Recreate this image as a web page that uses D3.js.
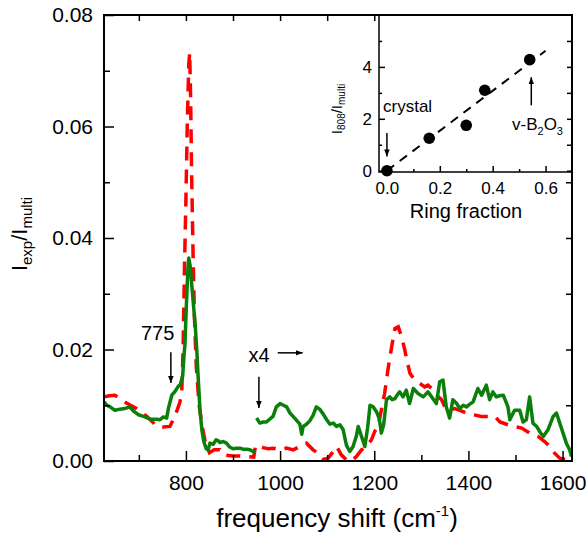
<!DOCTYPE html>
<meta charset="utf-8">
<script src="https://d3js.org/d3.v7.min.js"></script>
<style>
  body { margin: 0; background: #fff; }
  text { font-family: "Liberation Sans", Arial, sans-serif; fill: #000; }
</style>
<div id="chart"></div>
<script>

// ---- main spectrum data (frequency shift in cm-1, intensity ratio) ----
var redFreq = [626, 638, 649, 660, 670, 682, 695, 706, 717, 728, 738, 752, 766, 773, 780, 787, 791, 794, 797, 800,
  803, 806, 808, 810, 812, 815, 818, 822, 828, 835, 842, 850, 860, 872, 880, 890, 900, 915, 930, 944,
  948, 957, 964, 975, 985, 1000, 1014, 1028, 1042, 1056, 1070, 1081, 1092, 1102, 1111, 1120, 1130, 1141, 1152, 1162,
  1173, 1183, 1194, 1201, 1208, 1215, 1222, 1230, 1237, 1244, 1251, 1258, 1265, 1269, 1276, 1286, 1297, 1307, 1314, 1322,
  1332, 1343, 1350, 1360, 1371, 1382, 1396, 1410, 1428, 1442, 1456, 1467, 1484, 1498, 1513, 1530, 1548, 1562, 1573, 1583,
  1594, 1608, 1619];
var redVal = [0.0115, 0.0117, 0.0118, 0.0112, 0.0106, 0.0100, 0.0094, 0.0087, 0.0080, 0.0071, 0.0062, 0.0061, 0.0062, 0.0074, 0.0088, 0.0105, 0.0120, 0.0200, 0.0350, 0.0470,
  0.0610, 0.0710, 0.0732, 0.0650, 0.0520, 0.0380, 0.0260, 0.0170, 0.0100, 0.0060, 0.0030, 0.0015, 0.0020, 0.0020, 0.0011, 0.0010, 0.0009, 0.0009, 0.0008, 0.0007,
  0.0028, 0.0026, 0.0024, 0.0022, 0.0023, 0.0020, 0.0023, 0.0020, 0.0026, 0.0032, 0.0020, 0.0014, 0.0003, 0.0005, 0.0015, 0.0026, 0.0011, 0.0002, 0.0000, 0.0008,
  0.0020, 0.0026, 0.0038, 0.0053, 0.0062, 0.0091, 0.0121, 0.0169, 0.0205, 0.0238, 0.0241, 0.0223, 0.0199, 0.0181, 0.0157, 0.0145, 0.0139, 0.0133, 0.0136, 0.0130,
  0.0118, 0.0110, 0.0097, 0.0091, 0.0094, 0.0091, 0.0086, 0.0083, 0.0080, 0.0080, 0.0080, 0.0070, 0.0065, 0.0062, 0.0059, 0.0050, 0.0044, 0.0035, 0.0026, 0.0014,
  0.0005, 0.0002, 0.0000];

// green curve, first part (below 950 cm-1)
var greenFreqA = [626, 632, 639, 649, 660, 670, 681, 688, 699, 710, 724, 738, 745, 752, 759, 763, 770, 777, 783, 788,
  793, 796, 798, 801, 804, 806, 809, 812, 816, 820, 823, 826, 830, 834, 838, 843, 847, 851, 858, 864,
  869, 872, 879, 886, 893, 900, 907, 915, 922, 929, 936, 943, 947];
var greenValA = [0.0106, 0.0100, 0.0097, 0.0091, 0.0093, 0.0094, 0.0097, 0.0090, 0.0083, 0.0080, 0.0075, 0.0075, 0.0074, 0.0079, 0.0077, 0.0095, 0.0118, 0.0125, 0.0133, 0.0137,
  0.0152, 0.0190, 0.0210, 0.0280, 0.0340, 0.0364, 0.0350, 0.0320, 0.0280, 0.0240, 0.0200, 0.0150, 0.0090, 0.0055, 0.0035, 0.0022, 0.0020, 0.0032, 0.0030, 0.0038,
  0.0036, 0.0033, 0.0035, 0.0032, 0.0025, 0.0022, 0.0023, 0.0023, 0.0021, 0.0021, 0.0020, 0.0017, 0.0019];

// green curve, second part (x4 scaled region)
var greenFreqB = [950, 957, 964, 971, 978, 985, 992, 1000, 1007, 1014, 1021, 1031, 1042, 1046, 1049, 1056, 1063, 1070, 1077, 1084,
  1091, 1099, 1106, 1113, 1120, 1127, 1134, 1141, 1148, 1155, 1162, 1166, 1173, 1180, 1186, 1191, 1198, 1205, 1211, 1215,
  1220, 1226, 1233, 1238, 1244, 1250, 1254, 1261, 1268, 1275, 1283, 1293, 1304, 1314, 1322, 1332, 1339, 1346, 1353, 1360,
  1367, 1375, 1382, 1389, 1396, 1403, 1410, 1420, 1428, 1438, 1445, 1452, 1459, 1466, 1474, 1484, 1488, 1498, 1509, 1516,
  1523, 1530, 1537, 1545, 1552, 1559, 1569, 1580, 1587, 1594, 1601, 1608, 1615, 1619];
var greenValB = [0.0077, 0.0068, 0.0070, 0.0070, 0.0075, 0.0080, 0.0097, 0.0103, 0.0100, 0.0097, 0.0086, 0.0077, 0.0066, 0.0048, 0.0062, 0.0066, 0.0072, 0.0082, 0.0097, 0.0093,
  0.0085, 0.0074, 0.0066, 0.0068, 0.0062, 0.0065, 0.0056, 0.0028, 0.0017, 0.0026, 0.0045, 0.0062, 0.0044, 0.0026, 0.0060, 0.0100, 0.0097, 0.0088, 0.0075, 0.0050,
  0.0065, 0.0110, 0.0115, 0.0110, 0.0112, 0.0120, 0.0124, 0.0115, 0.0127, 0.0103, 0.0130, 0.0121, 0.0115, 0.0124, 0.0115, 0.0103, 0.0142, 0.0145, 0.0097, 0.0077,
  0.0110, 0.0103, 0.0094, 0.0100, 0.0097, 0.0102, 0.0106, 0.0130, 0.0118, 0.0136, 0.0110, 0.0124, 0.0115, 0.0117, 0.0118, 0.0097, 0.0074, 0.0091, 0.0091, 0.0070,
  0.0074, 0.0115, 0.0068, 0.0062, 0.0052, 0.0044, 0.0056, 0.0080, 0.0086, 0.0068, 0.0050, 0.0032, 0.0020, 0.0008];

var xMajor = [800, 1000, 1200, 1400, 1600];
var xMinor = [700, 900, 1100, 1300, 1500];
var yMajor = [0, 0.02, 0.04, 0.06, 0.08];
var yMinor = [0.01, 0.03, 0.05, 0.07];

// ---- inset data ----
var ringFraction = [0, 0.16, 0.30, 0.37, 0.54];
var ratio808 = [0, 1.25, 1.75, 3.1, 4.28];
var fitX = [0, 0.6];
var fitY = [0, 4.62];
var inXMajor = [0, 0.2, 0.4, 0.6];
var inXMinor = [0.1, 0.3, 0.5];
var inYMajor = [0, 2, 4];
var inYMinor = [1, 3, 5];

var width = 588, height = 539;
var mLeft = 104, mTop = 15, mRight = 572, mBottom = 461;

var svg = d3.select("#chart").append("svg")
    .attr("width", width)
    .attr("height", height);

var defs = svg.append("defs");
defs.append("clipPath").attr("id", "clip")
  .append("rect").attr("x", mLeft).attr("y", mTop).attr("width", mRight - mLeft).attr("height", mBottom - mTop);
defs.append("marker")
    .attr("id", "arrow")
    .attr("viewBox", "0 0 10 10")
    .attr("refX", 10).attr("refY", 5)
    .attr("markerWidth", 7).attr("markerHeight", 7)
    .attr("markerUnits", "userSpaceOnUse")
    .attr("orient", "auto")
  .append("path").attr("d", "M0,1 L10,5 L0,9 Z").attr("fill", "#000");

var x = d3.scaleLinear().domain([626, 1620]).range([mLeft, mRight]);
var y = d3.scaleLinear().domain([0, 0.08]).range([mBottom, mTop]);

function zip(a, b) { return a.map(function(d, i) { return [d, b[i]]; }); }

var line = d3.line()
    .x(function(d) { return x(d[0]); })
    .y(function(d) { return y(d[1]); });

var plot = svg.append("g").attr("clip-path", "url(#clip)");

plot.append("path")
    .attr("d", line(zip(redFreq, redVal)))
    .attr("fill", "none")
    .attr("stroke", "#ff0000")
    .attr("stroke-width", 3.5)
    .attr("stroke-dasharray", "14,9");

[zip(greenFreqA, greenValA), zip(greenFreqB, greenValB)].forEach(function(seg) {
  plot.append("path")
      .attr("d", line(seg))
      .attr("fill", "none")
      .attr("stroke", "#0a800a")
      .attr("stroke-width", 3.5)
      .attr("stroke-linejoin", "round");
});

// ---- main axes, ticks pointing inward ----
function styleAxis(g, fs) {
  g.select(".domain").remove();
  g.selectAll("line").attr("stroke", "#000").attr("stroke-width", 1.5);
  g.selectAll("text").style("font-size", fs).attr("fill", "#000");
}

svg.append("g").attr("transform", "translate(0," + mBottom + ")")
  .call(d3.axisBottom(x).tickValues(xMajor).tickSize(-10).tickSizeOuter(0).tickPadding(14).tickFormat(d3.format("d")))
  .call(styleAxis, "21px");
svg.append("g").attr("transform", "translate(0," + mBottom + ")")
  .call(d3.axisBottom(x).tickValues(xMinor).tickSize(-6).tickSizeOuter(0).tickFormat(""))
  .call(styleAxis, "21px");
svg.append("g").attr("transform", "translate(0," + mTop + ")")
  .call(d3.axisTop(x).tickValues(xMajor.concat(xMinor)).tickSize(-6).tickSizeOuter(0).tickFormat(""))
  .call(styleAxis, "21px");

svg.append("g").attr("transform", "translate(" + mLeft + ",0)")
  .call(d3.axisLeft(y).tickValues(yMajor).tickSize(-10).tickSizeOuter(0).tickPadding(11).tickFormat(d3.format(".2f")))
  .call(styleAxis, "21px");
svg.append("g").attr("transform", "translate(" + mLeft + ",0)")
  .call(d3.axisLeft(y).tickValues(yMinor).tickSize(-6).tickSizeOuter(0).tickFormat(""))
  .call(styleAxis, "21px");
svg.append("g").attr("transform", "translate(" + mRight + ",0)")
  .call(d3.axisRight(y).tickValues(yMajor.concat(yMinor).filter(function(d) { return d > 0 && d < 0.055; })).tickSize(-6).tickSizeOuter(0).tickFormat(""))
  .call(styleAxis, "21px");

svg.append("rect")
    .attr("x", mLeft).attr("y", mTop)
    .attr("width", mRight - mLeft).attr("height", mBottom - mTop)
    .attr("fill", "none").attr("stroke", "#000").attr("stroke-width", 2);

// axis titles
var xt = svg.append("text")
    .attr("x", 337).attr("y", 527)
    .attr("text-anchor", "middle")
    .style("font-size", "26px");
xt.append("tspan").text("frequency shift (cm");
xt.append("tspan").text("-1").style("font-size", "15px").attr("dy", -11);
xt.append("tspan").text(")").attr("dy", 11);

var yt = svg.append("text")
    .attr("transform", "translate(27,234) rotate(-90)")
    .attr("text-anchor", "middle")
    .style("font-size", "22px");
yt.append("tspan").text("I");
yt.append("tspan").text("exp").style("font-size", "15px").attr("dy", 5);
yt.append("tspan").text("/I").attr("dy", -5);
yt.append("tspan").text("multi").style("font-size", "15px").attr("dy", 5);

// annotations on the main plot
function arrow(x1, y1, x2, y2) {
  svg.append("line")
      .attr("x1", x1).attr("y1", y1).attr("x2", x2).attr("y2", y2)
      .attr("stroke", "#000").attr("stroke-width", 1.5)
      .attr("marker-end", "url(#arrow)");
}
svg.append("text").attr("x", x(740)).attr("y", y(0.0217)).attr("text-anchor", "middle")
    .style("font-size", "20px").text("775");
arrow(x(768), y(0.0195), x(768), y(0.0140));

svg.append("text").attr("x", x(933)).attr("y", y(0.0178))
    .style("font-size", "20px").text("x4");
arrow(x(995), y(0.0194), x(1048), y(0.0194));
arrow(x(955), y(0.0151), x(955), y(0.0095));

// ---- inset ----
var iLeft = 379, iTop = 15, iRight = 572, iBottom = 172;
var ix = d3.scaleLinear().domain([-0.03, 0.7]).range([iLeft, iRight]);
var iy = d3.scaleLinear().domain([-0.05, 6]).range([iBottom, iTop]);

svg.append("rect")
    .attr("x", iLeft).attr("y", iTop + 1)
    .attr("width", iRight - iLeft - 1).attr("height", iBottom - iTop - 1)
    .attr("fill", "#fff");

svg.append("g").attr("transform", "translate(0," + iBottom + ")")
  .call(d3.axisBottom(ix).tickValues(inXMajor).tickSize(-6).tickSizeOuter(0).tickPadding(10).tickFormat(d3.format(".1f")))
  .call(styleAxis, "17px");
svg.append("g").attr("transform", "translate(0," + iBottom + ")")
  .call(d3.axisBottom(ix).tickValues(inXMinor).tickSize(-3).tickSizeOuter(0).tickFormat(""))
  .call(styleAxis, "17px");
svg.append("g").attr("transform", "translate(" + iLeft + ",0)")
  .call(d3.axisLeft(iy).tickValues(inYMajor).tickSize(-6).tickSizeOuter(0).tickPadding(7).tickFormat(d3.format("d")))
  .call(styleAxis, "17px");
svg.append("g").attr("transform", "translate(" + iLeft + ",0)")
  .call(d3.axisLeft(iy).tickValues(inYMinor).tickSize(-3).tickSizeOuter(0).tickFormat(""))
  .call(styleAxis, "17px");
svg.append("g").attr("transform", "translate(" + iRight + ",0)")
  .call(d3.axisRight(iy).tickValues(inYMajor.concat(inYMinor)).tickSize(-5).tickSizeOuter(0).tickFormat(""))
  .call(styleAxis, "17px");

svg.append("path")
    .attr("d", "M" + iLeft + "," + iTop + "V" + iBottom + "H" + iRight)
    .attr("fill", "none").attr("stroke", "#000").attr("stroke-width", 1.5);

svg.append("path")
    .attr("d", d3.line().x(function(d) { return ix(d[0]); }).y(function(d) { return iy(d[1]); })(zip(fitX, fitY)))
    .attr("stroke", "#000").attr("stroke-width", 2)
    .attr("stroke-dasharray", "9,7");

svg.selectAll(".pt")
  .data(zip(ringFraction, ratio808))
  .enter().append("circle")
    .attr("class", "pt")
    .attr("cx", function(d) { return ix(d[0]); })
    .attr("cy", function(d) { return iy(d[1]); })
    .attr("r", 5.8)
    .attr("fill", "#000");

svg.append("text").attr("x", 466).attr("y", 218).attr("text-anchor", "middle")
    .style("font-size", "20px").text("Ring fraction");

var iyt = svg.append("text")
    .attr("transform", "translate(342,109) rotate(-90)")
    .attr("text-anchor", "middle")
    .style("font-size", "15px");
iyt.append("tspan").text("I");
iyt.append("tspan").text("808").style("font-size", "10px").attr("dy", 3);
iyt.append("tspan").text("/I").attr("dy", -3);
iyt.append("tspan").text("multi").style("font-size", "10px").attr("dy", 3);

svg.append("text").attr("x", 383).attr("y", 112).style("font-size", "17px").text("crystal");
arrow(ix(0), iy(1.45), ix(0), iy(0.55));

var vb = svg.append("text").attr("x", 512).attr("y", 130).style("font-size", "17px");
vb.append("tspan").text("v-B");
vb.append("tspan").text("2").style("font-size", "11px").attr("dy", 5);
vb.append("tspan").text("O").attr("dy", -5);
vb.append("tspan").text("3").style("font-size", "11px").attr("dy", 5);
arrow(ix(0.546), iy(2.52), ix(0.546), iy(3.6));

</script>
